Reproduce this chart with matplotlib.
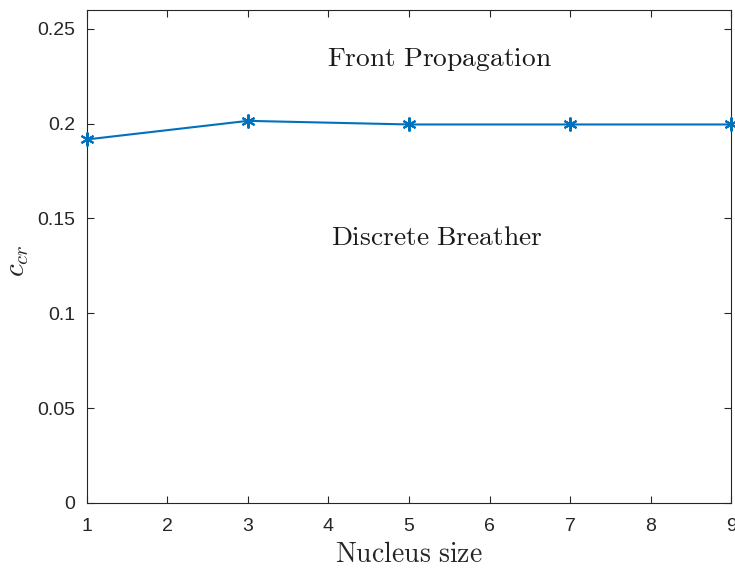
import matplotlib.pyplot as plt

plt.rcParams['mathtext.fontset'] = 'cm'
plt.rcParams['font.family'] = ['Liberation Sans', 'DejaVu Sans']

nucleus_size = [1, 3, 5, 7, 9]
c_cr = [0.1916, 0.2014, 0.1995, 0.1995, 0.1995]
x_ticks = [1, 2, 3, 4, 5, 6, 7, 8, 9]
y_ticks = [0, 0.05, 0.1, 0.15, 0.2, 0.25]
y_tick_labels = ['0', '0.05', '0.1', '0.15', '0.2', '0.25']

fig = plt.figure(figsize=(7.35, 5.69), dpi=100)
ax = fig.add_axes([0.118, 0.116, 0.877, 0.867])

# matlab-style asterisk marker
ax.plot(nucleus_size, c_cr, color='#0072BD', lw=1.5, marker=(6, 2, 0),
        markersize=10, markeredgewidth=1.5, clip_on=False, zorder=3)

ax.set_xlim(1, 9)
ax.set_ylim(0, 0.26)
ax.set_xticks(x_ticks)
ax.set_yticks(y_ticks)
ax.set_yticklabels(y_tick_labels)

ax.tick_params(direction='in', top=True, right=True, length=5, width=0.8,
               colors='#262626', labelsize=14)
ax.tick_params(axis='x', pad=11)
ax.tick_params(axis='y', pad=8)
for s in ax.spines.values():
    s.set_color('#262626')
    s.set_linewidth(0.8)

ax.text(5.38, 0.2335, r'$\mathrm{Front\ Propagation}$', fontsize=19.8,
        ha='center', va='center', color='#1a1a1a')
ax.text(5.35, 0.1395, r'$\mathrm{Discrete\ Breather}$', fontsize=19.8,
        ha='center', va='center', color='#1a1a1a')

ax.set_xlabel(r'$\mathrm{Nucleus\ size}$', fontsize=20, color='#262626', labelpad=5)
ax.set_ylabel(r'$c_{cr}$', fontsize=21, color='#262626')
ax.yaxis.set_label_coords(-0.086, 0.49)

plt.savefig('out.png', dpi=100)
